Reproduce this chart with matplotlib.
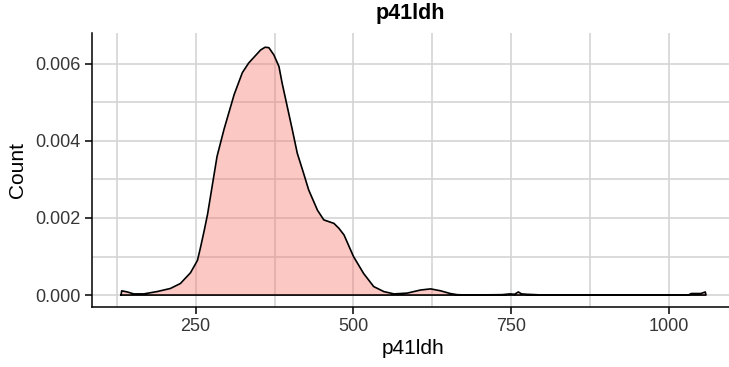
import matplotlib
matplotlib.use("Agg")
import matplotlib.pyplot as plt
import numpy as np

# Kernel density estimate of p41ldh (x value, density)
ldh_values = [132, 133, 142, 152, 168, 189, 210, 226, 242, 253, 258, 264, 269,
              276, 284, 295, 311, 324, 334, 353, 360, 366, 374, 382, 387, 395,
              403, 411, 421, 429, 443, 453, 469, 477, 485, 500, 516, 532, 548,
              564, 585, 606, 622, 638, 653, 664, 680, 735, 748, 755, 761, 766,
              774, 788, 800, 1030, 1035, 1050, 1057, 1058]
density = [0.0, 0.00011, 0.00008, 0.00003, 0.00003, 0.00009, 0.00017, 0.0003,
           0.00058, 0.0009, 0.00125, 0.0017, 0.0021, 0.0028, 0.0036, 0.0043,
           0.0052, 0.00577, 0.00602, 0.00636, 0.00643, 0.00642, 0.00623,
           0.00593, 0.0055, 0.0049, 0.0043, 0.00368, 0.00316, 0.00273, 0.0022,
           0.00195, 0.00186, 0.00173, 0.00156, 0.0010, 0.00056, 0.00022,
           0.00009, 0.00003, 0.00005, 0.00013, 0.00016, 0.00011, 0.00004,
           0.00001, 0.0, 0.00001, 0.00003, 0.00002, 0.00008, 0.00003, 0.00002,
           0.00001, 0.0, 0.0, 0.00004, 0.00004, 0.00008, 0.0]

x_ticks = [250, 500, 750, 1000]
y_ticks = [0.000, 0.002, 0.004, 0.006]
y_tick_labels = ["0.000", "0.002", "0.004", "0.006"]
title = "p41ldh"
x_label = "p41ldh"
y_label = "Count"

plt.rcParams["font.family"] = ["Liberation Sans", "DejaVu Sans"]

W, H = 729, 367
fig = plt.figure(figsize=(W / 100, H / 100), dpi=100)
left_px, right_px, top_px, bottom_px = 92, 735, 33, 307
ax = fig.add_axes([left_px / W, 1 - bottom_px / H,
                   (right_px - left_px) / W, (bottom_px - top_px) / H])

x = np.array(ldh_values, dtype=float)
y = np.array(density, dtype=float)

ax.fill_between(x, 0, y, color="#F8766D", alpha=0.4, linewidth=0, zorder=2)
# closed outline like a density polygon
ax.plot(np.r_[x, x[-1], x[0]], np.r_[y, 0, 0], color="black",
        linewidth=1.2, zorder=3, solid_joinstyle="round")

ax.set_xlim(86, 1104)
ax.set_ylim(-0.00031, 0.0068)

ax.set_xticks(x_ticks)
ax.set_xticks([125, 375, 625, 875], minor=True)
ax.set_yticks(y_ticks)
ax.set_yticklabels(y_tick_labels)
ax.set_yticks([0.001, 0.003, 0.005], minor=True)

ax.grid(True, which="both", color="#D4D4D4", linewidth=1.2, zorder=0)
ax.set_axisbelow(True)

for s in ["top", "right"]:
    ax.spines[s].set_visible(False)
for s in ["left", "bottom"]:
    ax.spines[s].set_color("black")
    ax.spines[s].set_linewidth(1.1)

ax.tick_params(axis="both", which="major", length=5, width=1.1, color="black",
               labelsize=13, labelcolor="#363636", pad=3)
ax.tick_params(axis="both", which="minor", length=0)

ax.set_xlabel(x_label, fontsize=15, color="black", labelpad=3)
ax.set_ylabel(y_label, fontsize=15, color="black", labelpad=6)
fig.text((left_px + 729) / 2 / W, 1 - 13 / H, title, fontsize=15.5,
         fontweight="bold", ha="center", va="center")

fig.savefig("out.png", dpi=100, facecolor="white")
